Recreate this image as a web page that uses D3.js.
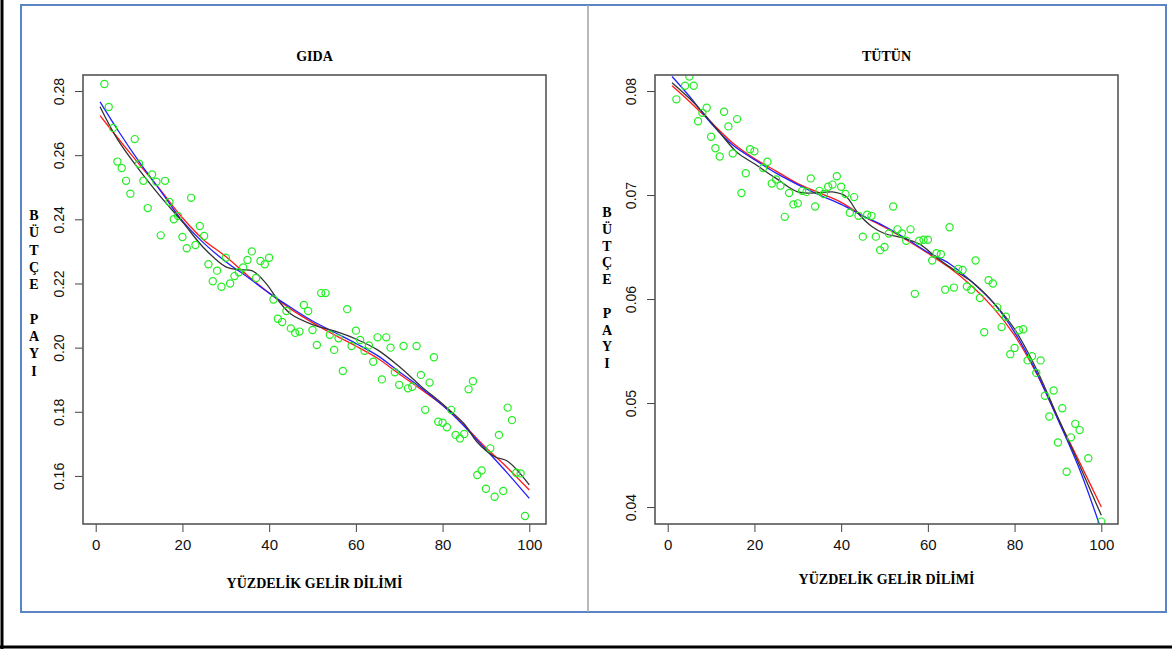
<!DOCTYPE html>
<html>
<head>
<meta charset="utf-8">
<script src="https://cdn.jsdelivr.net/npm/d3@7"></script>
<style>
  body { margin: 0; background: #fff; }
  svg { display: block; }
</style>
</head>
<body>
<svg id="chart" width="1172" height="649"></svg>
<script>
// ---- data ----

// GIDA: scatter (percentile, budget share)
const gidaX = [2, 3, 4, 5, 6, 7, 8, 9, 10, 11, 12, 13, 14, 15, 16, 17, 18, 19, 20, 21,
  22, 23, 24, 25, 26, 27, 28, 29, 30, 31, 32, 33, 34, 35, 36, 37, 38, 39, 40, 41,
  42, 43, 44, 45, 46, 47, 48, 49, 50, 51, 52, 53, 54, 55, 56, 57, 58, 59, 60, 61,
  62, 63, 64, 65, 66, 67, 68, 69, 70, 71, 72, 73, 74, 75, 76, 77, 78, 79, 80, 81,
  82, 83, 84, 85, 86, 87, 88, 89, 90, 91, 92, 93, 94, 95, 96, 97, 98, 99];
const gidaY = [0.2822, 0.2750, 0.2685, 0.2580, 0.2560, 0.2520, 0.2480, 0.2650, 0.2573, 0.2520,
  0.2435, 0.2540, 0.2517, 0.2350, 0.2520, 0.2454, 0.2400, 0.2410, 0.2345, 0.2310,
  0.2467, 0.2320, 0.2379, 0.2348, 0.2260, 0.2207, 0.2240, 0.2190, 0.2280, 0.2200,
  0.2223, 0.2235, 0.2250, 0.2273, 0.2300, 0.2217, 0.2270, 0.2260, 0.2280, 0.2150,
  0.2090, 0.2080, 0.2114, 0.2060, 0.2046, 0.2050, 0.2133, 0.2114, 0.2055, 0.2008,
  0.2170, 0.2170, 0.2040, 0.1993, 0.2029, 0.1927, 0.2120, 0.2005, 0.2053, 0.2024,
  0.1990, 0.2007, 0.1956, 0.2032, 0.1901, 0.2032, 0.2000, 0.1923, 0.1884, 0.2005,
  0.1873, 0.1878, 0.2005, 0.1915, 0.1806, 0.1891, 0.1970, 0.1769, 0.1766, 0.1752,
  0.1806, 0.1728, 0.1717, 0.1731, 0.1870, 0.1895, 0.1603, 0.1617, 0.1560, 0.1686,
  0.1535, 0.1728, 0.1553, 0.1813, 0.1774, 0.1610, 0.1608, 0.1475];

// GIDA: fitted curves (red, blue share the same x; black is wavier)
const gidaFitX = [1, 5, 10, 15, 20, 25, 30, 35, 40, 45, 50, 55, 60, 65, 70, 75, 80, 85, 90, 95, 100];
const gidaRed = [0.2723, 0.2655, 0.2572, 0.2490, 0.2405, 0.2335, 0.2284, 0.2225, 0.2170, 0.2120,
  0.2078, 0.2040, 0.2005, 0.1967, 0.1918, 0.1870, 0.1820, 0.1757, 0.1688, 0.1625, 0.1556];
const gidaBlue = [0.2766, 0.2680, 0.2580, 0.2488, 0.2395, 0.2325, 0.2268, 0.2220, 0.2170, 0.2125,
  0.2083, 0.2048, 0.2013, 0.1975, 0.1925, 0.1875, 0.1820, 0.1755, 0.1682, 0.1608, 0.1530];
const gidaBlackX = [1, 5, 10, 15, 20, 25, 30, 33, 36, 39, 42, 45, 50, 55, 60, 65, 70, 75, 80, 85, 88, 92, 95, 100];
const gidaBlack = [0.2751, 0.2650, 0.2555, 0.2470, 0.2392, 0.2310, 0.2252, 0.2243, 0.2240, 0.2205,
  0.2149, 0.2105, 0.2072, 0.2052, 0.2027, 0.1993, 0.1941, 0.1880, 0.1824, 0.1762, 0.1705, 0.1660,
  0.1646, 0.1572];

// TUTUN: scatter
const tutunX = [2, 4, 5, 6, 7, 8, 9, 10, 11, 12, 13, 14, 15, 16, 17, 18, 19, 20, 22, 23,
  24, 25, 26, 27, 28, 29, 30, 31, 32, 33, 34, 35, 36, 37, 38, 39, 40, 41, 42, 43,
  44, 45, 46, 47, 48, 49, 50, 51, 52, 53, 54, 55, 56, 57, 58, 59, 60, 61, 62, 63,
  64, 65, 66, 67, 68, 69, 70, 71, 72, 73, 74, 75, 76, 77, 78, 79, 80, 81, 82, 83,
  84, 85, 86, 87, 88, 89, 90, 91, 92, 93, 94, 95, 97, 100];
const tutunY = [0.0792, 0.0805, 0.0814, 0.0805, 0.0771, 0.0779, 0.0784, 0.0756, 0.0745, 0.0737,
  0.0780, 0.0766, 0.0740, 0.0773, 0.0702, 0.0721, 0.0744, 0.0742, 0.0726, 0.0732,
  0.0711, 0.0715, 0.0709, 0.0679, 0.0702, 0.0691, 0.0692, 0.0704, 0.0703, 0.0716,
  0.0689, 0.0704, 0.0701, 0.0708, 0.0710, 0.0718, 0.0708, 0.0701, 0.0683, 0.0698,
  0.0680, 0.0660, 0.0681, 0.0680, 0.0660, 0.0647, 0.0650, 0.0663, 0.0689, 0.0667,
  0.0663, 0.0656, 0.0667, 0.0605, 0.0656, 0.0657, 0.0657, 0.0637, 0.0644, 0.0643,
  0.0609, 0.0669, 0.0611, 0.0629, 0.0628, 0.0612, 0.0609, 0.0637, 0.0601, 0.0568,
  0.0618, 0.0615, 0.0592, 0.0573, 0.0583, 0.0547, 0.0553, 0.0570, 0.0571, 0.0541,
  0.0545, 0.0529, 0.0541, 0.0507, 0.0487, 0.0512, 0.0462, 0.0495, 0.0434, 0.0467,
  0.0480, 0.0474, 0.0447, 0.0386];

const tutunFitX = [1, 5, 10, 15, 20, 25, 30, 35, 40, 45, 50, 55, 60, 65, 70, 75, 80, 85, 90, 95, 100];
const tutunRed = [0.0805, 0.0790, 0.0770, 0.0750, 0.0735, 0.0723, 0.0711, 0.0702, 0.0693, 0.0680,
  0.0669, 0.0657, 0.0644, 0.0630, 0.0613, 0.0592, 0.0565, 0.0529, 0.0485, 0.0443, 0.0400];
const tutunBlue = [0.0814, 0.0795, 0.0769, 0.0748, 0.0734, 0.0721, 0.0710, 0.0700, 0.0691, 0.0680,
  0.0670, 0.0658, 0.0645, 0.0634, 0.0617, 0.0597, 0.0568, 0.0530, 0.0484, 0.0436, 0.0378];
const tutunBlackX = [1, 5, 8, 12, 16, 20, 25, 30, 34, 38, 41, 44, 47, 50, 54, 58, 62, 66, 70, 75, 80, 85, 90, 95, 100];
const tutunBlack = [0.0808, 0.0793, 0.0780, 0.0760, 0.0741, 0.0730, 0.0716, 0.0703, 0.0702, 0.0703,
  0.0699, 0.0682, 0.0670, 0.0663, 0.0659, 0.0653, 0.0640, 0.0628, 0.0617, 0.0597, 0.0571, 0.0533,
  0.0486, 0.0440, 0.0392];

// axis ticks and labels
const xTicks = [0, 20, 40, 60, 80, 100];
const gidaTicks = [0.16, 0.18, 0.20, 0.22, 0.24, 0.26, 0.28];
const tutunTicks = [0.04, 0.05, 0.06, 0.07, 0.08];
const xLabel = "YÜZDELİK GELİR DİLİMİ";
const yLabelLetters = ["B", "Ü", "T", "Ç", "E", "", "P", "A", "Y", "I"];

const svg = d3.select("#chart");
const serif = "'Liberation Serif', 'Times New Roman', serif";
const sans = "'Liberation Sans', Arial, sans-serif";

// page frames (black page edge, blue text box, grey divider)
svg.append("line").attr("x1", 2).attr("y1", 0).attr("x2", 2).attr("y2", 649)
  .attr("stroke", "#000").attr("stroke-width", 3);
svg.append("line").attr("x1", 0).attr("y1", 647).attr("x2", 1172).attr("y2", 647)
  .attr("stroke", "#000").attr("stroke-width", 3);
svg.append("rect").attr("x", 21).attr("y", 5).attr("width", 1145).attr("height", 607)
  .attr("fill", "none").attr("stroke", "#5b84c4").attr("stroke-width", 2);
svg.append("line").attr("x1", 588).attr("y1", 5).attr("x2", 588).attr("y2", 612)
  .attr("stroke", "#a2a2a2").attr("stroke-width", 1.5);

function drawPanel(p) {
  const x = d3.scaleLinear().domain([-2.93, 103.85]).range([p.left, p.right]);
  const y = d3.scaleLinear().domain(p.yDomain).range([p.bottom, p.top]);
  const g = svg.append("g");
  const clipId = "clip-" + p.id;

  g.append("clipPath").attr("id", clipId)
    .append("rect")
    .attr("x", p.left).attr("y", p.top)
    .attr("width", p.right - p.left).attr("height", p.bottom - p.top);

  // x axis
  const xa = g.append("g")
    .attr("transform", `translate(0,${p.bottom})`)
    .call(d3.axisBottom(x).tickValues(xTicks).tickSize(8).tickPadding(7).tickFormat(d3.format("d")));
  xa.select(".domain").remove();
  xa.selectAll("line").attr("stroke", "#444");
  xa.selectAll("text").attr("font-family", sans).attr("font-size", 15).attr("fill", "#111");

  // y axis, labels turned like base R
  const ya = g.append("g")
    .attr("transform", `translate(${p.left},0)`)
    .call(d3.axisLeft(y).tickValues(p.ticks).tickSize(8).tickFormat(d3.format(p.fmt)));
  ya.select(".domain").remove();
  ya.selectAll("line").attr("stroke", "#444");
  ya.selectAll("text")
    .attr("font-family", sans).attr("font-size", 14).attr("fill", "#111")
    .attr("text-anchor", "middle").attr("x", 0).attr("dy", null)
    .attr("transform", "translate(-19,0) rotate(-90)");

  // fitted curves
  const line = d3.line().curve(d3.curveCatmullRom.alpha(0.5))
    .x(d => x(d[0])).y(d => y(d[1]));
  const curves = [
    { xs: p.fitX, ys: p.red, color: "#ff1a1a" },
    { xs: p.fitX, ys: p.blue, color: "#2020ff" },
    { xs: p.blackX, ys: p.black, color: "#333" }
  ];
  const cg = g.append("g").attr("clip-path", `url(#${clipId})`);
  cg.selectAll("path.fit")
    .data(curves)
    .enter()
    .append("path")
    .attr("class", "fit")
    .attr("d", c => line(c.xs.map((v, i) => [v, c.ys[i]])))
    .attr("fill", "none")
    .attr("stroke", c => c.color)
    .attr("stroke-width", 1.3);

  // scatter points
  cg.selectAll("circle")
    .data(p.px.map((v, i) => [v, p.py[i]]))
    .enter()
    .append("circle")
    .attr("cx", d => x(d[0]))
    .attr("cy", d => y(d[1]))
    .attr("r", 3.6)
    .attr("fill", "none")
    .attr("stroke", "#22ee22")
    .attr("stroke-width", 1.2);

  // plot box
  g.append("rect")
    .attr("x", p.left).attr("y", p.top)
    .attr("width", p.right - p.left).attr("height", p.bottom - p.top)
    .attr("fill", "none").attr("stroke", "#555").attr("stroke-width", 1.6);

  // title and axis titles
  const mid = (p.left + p.right) / 2;
  g.append("text").attr("x", mid).attr("y", 61)
    .attr("text-anchor", "middle").attr("font-family", serif)
    .attr("font-weight", "bold").attr("font-size", 14).text(p.title);
  g.append("text").attr("x", mid).attr("y", p.xLabelY)
    .attr("text-anchor", "middle").attr("font-family", serif)
    .attr("font-weight", "bold").attr("font-size", 14).text(xLabel);

  g.append("g").selectAll("text")
    .data(yLabelLetters)
    .enter()
    .append("text")
    .attr("x", p.labelX)
    .attr("y", (d, i) => p.labelTop + i * p.labelStep)
    .attr("text-anchor", "middle")
    .attr("font-family", serif).attr("font-weight", "bold").attr("font-size", 14)
    .text(d => d);
}

drawPanel({
  id: "gida", title: "GIDA",
  left: 83, right: 546, top: 75, bottom: 524,
  yDomain: [0.14502, 0.28499], ticks: gidaTicks, fmt: ".2f",
  px: gidaX, py: gidaY,
  fitX: gidaFitX, red: gidaRed, blue: gidaBlue, blackX: gidaBlackX, black: gidaBlack,
  labelX: 34, labelTop: 220, labelStep: 17.3, xLabelY: 588
});

drawPanel({
  id: "tutun", title: "TÜTÜN",
  left: 655, right: 1118, top: 75, bottom: 524,
  yDomain: [0.03837, 0.08154], ticks: tutunTicks, fmt: ".2f",
  px: tutunX, py: tutunY,
  fitX: tutunFitX, red: tutunRed, blue: tutunBlue, blackX: tutunBlackX, black: tutunBlack,
  labelX: 607, labelTop: 217, labelStep: 16.8, xLabelY: 584
});
</script>
</body>
</html>
